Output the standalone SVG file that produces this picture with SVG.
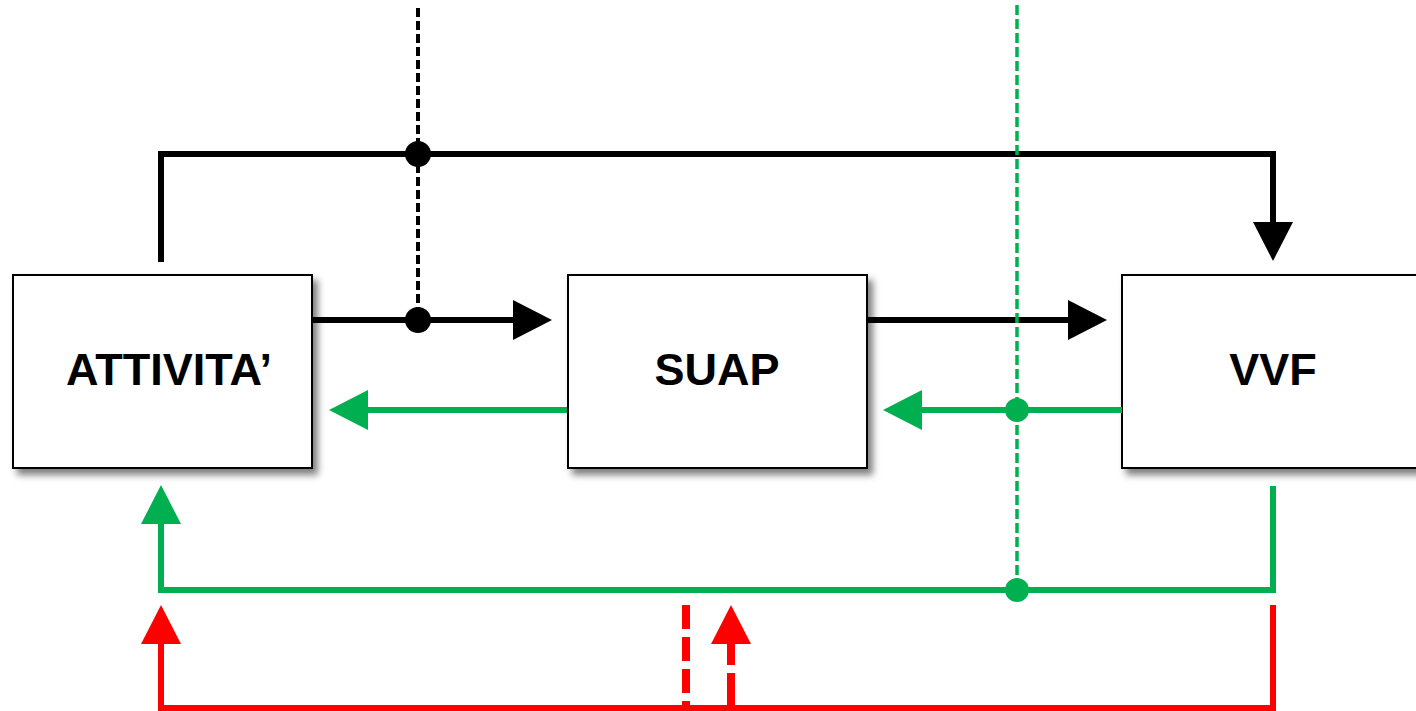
<svg xmlns="http://www.w3.org/2000/svg" width="1416" height="711" viewBox="0 0 1416 711">
  <style>
    .box { fill: #ffffff; stroke: #000000; stroke-width: 2; filter: url(#shadow); }
    .label { font-family: "Liberation Sans", Arial, sans-serif; font-weight: bold; font-size: 45px; text-anchor: middle; fill: #000000; }
    .blk { fill: none; stroke: #000000; stroke-width: 6; }
    .grn { fill: none; stroke: #00B050; stroke-width: 6; }
    .red { fill: none; stroke: #FF0000; stroke-width: 6; }
  </style>
  <defs>
    <filter id="shadow" x="-10%" y="-10%" width="130%" height="130%">
      <feDropShadow dx="5" dy="6" stdDeviation="3.5" flood-color="#000000" flood-opacity="0.5"/>
    </filter>
    <marker id="arrBlk" viewBox="0 -20 39 40" refX="0" refY="0" markerWidth="39" markerHeight="40" markerUnits="userSpaceOnUse" orient="auto">
      <path d="M0,-20 L39,0 L0,20 Z" fill="#000000"/>
    </marker>
    <marker id="arrGrn" viewBox="0 -20 39 40" refX="0" refY="0" markerWidth="39" markerHeight="40" markerUnits="userSpaceOnUse" orient="auto">
      <path d="M0,-20 L39,0 L0,20 Z" fill="#00B050"/>
    </marker>
    <marker id="arrRed" viewBox="0 -20 39 40" refX="0" refY="0" markerWidth="39" markerHeight="40" markerUnits="userSpaceOnUse" orient="auto">
      <path d="M0,-20 L39,0 L0,20 Z" fill="#FF0000"/>
    </marker>
  </defs>
  <rect width="1416" height="711" fill="#ffffff"/>

  <g id="node-attivita">
    <rect class="box" x="13" y="275" width="299" height="193"/>
    <text class="label" x="169" y="385">ATTIVITA’</text>
  </g>
  <g id="node-suap">
    <rect class="box" x="568" y="275" width="299" height="193"/>
    <text class="label" x="717" y="385">SUAP</text>
  </g>
  <g id="node-vvf">
    <rect class="box" x="1122" y="275" width="299" height="193"/>
    <text class="label" x="1273" y="385">VVF</text>
  </g>

  <g id="connectors">
    <!-- black flows -->
    <path class="blk" d="M161,262 V154 H1273 V222" marker-end="url(#arrBlk)"/>
    <path class="blk" d="M312,320 H513" marker-end="url(#arrBlk)"/>
    <path class="blk" d="M867,320 H1068" marker-end="url(#arrBlk)"/>
    <path d="M418,8 V320" fill="none" stroke="#000000" stroke-width="4" stroke-dasharray="9 4"/>
    <circle cx="418" cy="154" r="13" fill="#000000"/>
    <circle cx="418" cy="320" r="13" fill="#000000"/>

    <!-- green flows -->
    <path class="grn" d="M567,410 H368" marker-end="url(#arrGrn)"/>
    <path class="grn" d="M1122,410 H922" marker-end="url(#arrGrn)"/>
    <path class="grn" d="M1273,486 V590 H161 V524" marker-end="url(#arrGrn)"/>
    <path d="M1017,5 V590" fill="none" stroke="#00B050" stroke-width="3.5" stroke-dasharray="10 4"/>
    <circle cx="1017" cy="410" r="12" fill="#00B050"/>
    <circle cx="1017" cy="590" r="12" fill="#00B050"/>

    <!-- red flows -->
    <path class="red" d="M1273,605 V708 H161 V644" marker-end="url(#arrRed)"/>
    <path d="M686,605 V708" fill="none" stroke="#FF0000" stroke-width="8" stroke-dasharray="24 8"/>
    <path d="M731,708 V644" fill="none" stroke="#FF0000" stroke-width="8" stroke-dasharray="35 8" marker-end="url(#arrRed)"/>
  </g>
</svg>
